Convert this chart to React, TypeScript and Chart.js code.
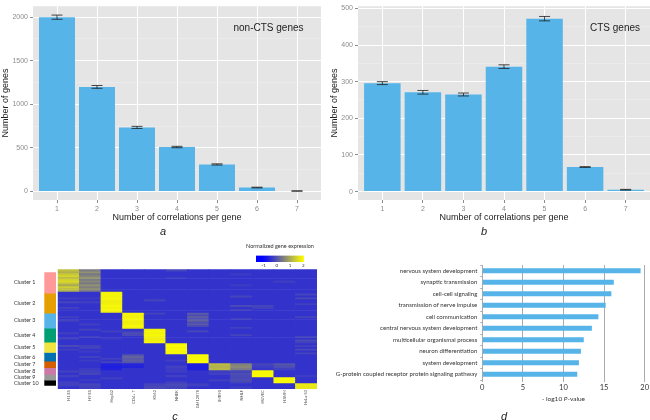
import React, { useEffect, useRef } from "react";
import { Chart, registerables } from "chart.js";

Chart.register(...registerables);

const SANS = "'Liberation Sans', Arial, sans-serif";
const LATO = "Lato, 'Noto Sans', sans-serif";
const BLUE = "#56B4E9";

// Panel a
const correlations = [1, 2, 3, 4, 5, 6, 7];
const nonCtsGenes = [2000, 1200, 735, 510, 310, 45, 5];
const nonCtsErrors = [24, 16, 12, 8, 7, 4, 2];
// Panel b
const ctsGenes = [296, 271, 265, 341, 472, 67, 5];
const ctsErrors = [4, 5, 4, 5, 6, 1, 1];
// Panel c: columns are H1, H9, HepG2, CD4, K562, NHEK, GM, IMR90, NHLF, HUVEC, HSMM, HeLa
const cellLines = ["H1 ES", "H9 ES", "HepG2", "CD4+ T", "K562", "NHEK", "GM12878", "IMR90", "NHLF", "HUVEC", "HSMM", "HeLa-S3"];
const clusterNames = ["Cluster 1", "Cluster 2", "Cluster 3", "Cluster 4", "Cluster 5", "Cluster 6", "Cluster 7", "Cluster 8", "Cluster 9", "Cluster 10"];
const clusterColors = ["#FF9999", "#E69F00", "#56B4E9", "#009E73", "#F0E442", "#0072B2", "#D55E00", "#CC79A7", "#999999", "#000000"];
const clusterSizes = [22, 21, 16, 14.5, 11, 9, 7, 7, 6, 6];
const baseLevel = -0.4;
// Each row lists only the cells that differ from baseLevel (column index: value).
const cluster1 = [
  { 0: 1.25, 1: 0.45, 5: -0.2 }, { 0: 1.05, 1: 0.7 }, { 0: 1.35, 1: 0.4, 8: -0.3 }, { 0: 1.5, 1: 0.55 },
  { 0: 1.2, 1: 0.75, 5: -0.3 }, { 0: 1.45, 1: 0.45 }, { 0: 1.55, 1: 0.6, 10: -0.25 }, { 0: 1.3, 1: 0.4 },
  { 0: 1.0, 1: 0.7, 8: -0.3 }, { 0: 1.4, 1: 0.5 }, { 0: 1.25, 1: 0.65 }, { 0: 1.1, 1: 0.45 },
];
const cluster2 = [
  { 2: 1.85 }, { 2: 1.9, 11: -0.2 }, { 2: 1.85, 8: -0.2 }, { 0: -0.25, 1: -0.3, 2: 1.9, 11: -0.15 },
  { 2: 1.85, 4: -0.2 }, { 0: -0.2, 1: -0.25, 2: 1.8 }, { 2: 1.85, 11: -0.25 }, { 2: 1.9, 8: -0.15, 9: -0.2 },
  { 0: -0.25, 2: 1.85, 9: -0.25 }, { 2: 1.9, 8: -0.25 }, { 2: 1.8 },
];
const cluster3 = [
  { 3: 1.9, 4: -0.2, 6: 0.05 }, { 3: 1.85, 6: -0.1 }, { 0: -0.25, 3: 1.85, 6: 0.1, 11: -0.2 }, { 3: 1.9, 6: -0.05, 8: -0.25 },
  { 0: -0.2, 3: 1.85, 6: 0.15 }, { 3: 1.8, 6: -0.1 }, { 1: -0.25, 3: 1.85, 6: 0.05 }, { 3: 1.9, 6: -0.15 }, { 3: 1.85, 8: -0.25 },
];
const cluster4 = [
  { 1: -0.2, 4: 1.85 }, { 2: -0.25, 3: -0.3, 4: 1.9, 6: -0.15 }, { 0: -0.25, 3: -0.1, 4: 1.85 }, { 3: -0.15, 4: 1.9, 8: -0.2 },
  { 1: -0.25, 4: 1.85, 11: -0.2 }, { 0: -0.2, 2: -0.3, 4: 1.8 }, { 4: 1.85, 11: -0.15 }, { 4: 1.9, 11: -0.25 },
];
const cluster5 = [
  { 5: 1.9 }, { 0: -0.15, 1: -0.25, 5: 1.95, 11: -0.25 }, { 1: -0.2, 5: 1.9 },
  { 0: -0.25, 5: 1.95, 11: -0.15 }, { 1: -0.3, 5: 1.9 }, { 5: 1.9, 11: -0.2 },
];
const cluster6 = [
  { 3: 0.0, 6: 1.95 }, { 1: -0.25, 3: 0.15, 6: 1.9 }, { 2: -0.25, 3: 0.05, 6: 1.95 }, { 1: -0.3, 3: 0.1, 5: -0.25, 6: 1.9 }, { 2: -0.2, 3: 0.0, 6: 1.95 },
];
const cluster7 = [
  { 2: -0.6, 3: -0.55, 6: -0.65, 7: 1.2, 8: 0.5, 9: -0.2, 10: 0.0 },
  { 2: -0.65, 3: -0.6, 5: -0.25, 6: -0.65, 7: 1.1, 8: 0.6, 9: -0.3, 10: -0.1 },
  { 1: -0.3, 2: -0.6, 5: -0.3, 6: -0.65, 7: 1.15, 8: 0.45, 9: -0.35, 10: -0.25 },
];
const cluster8 = [
  { 0: -0.25, 1: -0.25, 5: -0.3, 7: -0.3, 8: -0.2, 9: 1.95 },
  { 1: -0.2, 7: -0.25, 8: -0.1, 9: 1.9 },
  { 0: -0.25, 5: -0.25, 8: -0.15, 9: 1.95, 11: -0.3 },
];
const cluster9 = [
  { 2: -0.25, 8: -0.15, 10: 1.95 }, { 1: -0.3, 7: -0.25, 8: -0.1, 10: 1.9 }, { 0: -0.25, 5: -0.25, 8: -0.2, 10: 1.95 },
];
const cluster10 = [
  { 0: -0.25, 1: -0.2, 4: -0.2, 5: -0.15, 6: -0.25, 11: 1.75 },
  { 1: -0.25, 4: -0.15, 5: -0.2, 8: -0.3, 11: 1.7 },
];
const clusterRows: Record<number, number>[][] = [cluster1, cluster2, cluster3, cluster4, cluster5, cluster6, cluster7, cluster8, cluster9, cluster10];
const legendTicks = [-1, 0, 1, 2];
// Panel d
const goTerms = [
  "nervous system development",
  "synaptic transmission",
  "cell-cell signaling",
  "transmission of nerve impulse",
  "cell communication",
  "central nervous system development",
  "multicellular organismal process",
  "neuron differentiation",
  "system development",
  "G-protein coupled receptor protein signaling pathway",
];
const goValues = [19.5, 16.2, 15.9, 15.2, 14.3, 13.5, 12.5, 12.15, 11.9, 11.7];

function heat(v: number): string {
  const t = Math.max(0, Math.min(1, (v + 1) / 3));
  const c =
    t < 0.5
      ? [t * 2 * 128, t * 2 * 128, 255 - t * 2 * 127]
      : [128 + (t - 0.5) * 2 * 127, 128 + (t - 0.5) * 2 * 127, 128 - (t - 0.5) * 2 * 128];
  return `rgb(${c.map(Math.round).join(",")})`;
}

const panelBg = {
  id: "panelBg",
  beforeDraw(chart: any) {
    const { ctx, chartArea: a } = chart;
    ctx.save();
    ctx.fillStyle = "#E5E5E5";
    ctx.fillRect(a.left, a.top, a.right - a.left, a.bottom - a.top);
    ctx.restore();
  },
};

const errorBars = {
  id: "errorBars",
  afterDatasetsDraw(chart: any, _a: any, o: any) {
    const { ctx, scales } = chart;
    ctx.save();
    ctx.strokeStyle = "#1c1c1c";
    ctx.lineWidth = 0.8;
    chart.data.datasets[0].data.forEach((d: any, i: number) => {
      const x = scales.x.getPixelForValue(d.x);
      const hi = scales.y.getPixelForValue(d.y + o.errors[i]);
      const lo = scales.y.getPixelForValue(d.y - o.errors[i]);
      ctx.beginPath();
      ctx.moveTo(x, hi);
      ctx.lineTo(x, lo);
      ctx.moveTo(x - 5.5, hi);
      ctx.lineTo(x + 5.5, hi);
      ctx.moveTo(x - 5.5, lo);
      ctx.lineTo(x + 5.5, lo);
      ctx.stroke();
    });
    ctx.restore();
    ctx.save();
    ctx.fillStyle = "#222";
    ctx.font = `10px ${SANS}`;
    ctx.textAlign = "center";
    ctx.textBaseline = "middle";
    ctx.fillText(o.label, o.labelX, 28);
    ctx.restore();
  },
};

const mixedAxisTitle = {
  id: "mixedAxisTitle",
  afterDraw(chart: any) {
    const { ctx, chartArea: a } = chart;
    const parts: [string, string][] = [
      ["- log10 ", `6.5px ${LATO}`],
      ["P", `italic 6.5px ${LATO}`],
      ["-value", `6.5px ${LATO}`],
    ];
    ctx.save();
    ctx.fillStyle = "#333";
    ctx.textBaseline = "middle";
    ctx.textAlign = "left";
    let w = 0;
    parts.forEach(([t, f]) => {
      ctx.font = f;
      w += ctx.measureText(t).width;
    });
    let x = (a.left + a.right) / 2 - w / 2;
    parts.forEach(([t, f]) => {
      ctx.font = f;
      ctx.fillText(t, x, a.bottom + 18.5);
      x += ctx.measureText(t).width;
    });
    ctx.restore();
  },
};

function barPanel(canvas: HTMLCanvasElement, values: number[], errors: number[], opts: any) {
  return new Chart(canvas, {
    type: "bar",
    data: {
      datasets: [
        {
          data: correlations.map((x, i) => ({ x, y: values[i] })),
          backgroundColor: BLUE,
          barPercentage: 0.9,
          categoryPercentage: 1,
        },
      ],
    },
    plugins: [panelBg, errorBars],
    options: {
      responsive: false,
      animation: false,
      layout: { padding: { top: opts.top, right: opts.right, left: 0, bottom: 0 } },
      plugins: {
        legend: { display: false },
        tooltip: { enabled: false },
        errorBars: { errors, label: opts.label, labelX: opts.labelX },
      } as any,
      scales: {
        x: {
          type: "linear",
          offset: false,
          min: 0.4,
          max: 7.6,
          afterBuildTicks: (s: any) => {
            s.ticks = correlations.map((value) => ({ value }));
          },
          afterFit: (s: any) => {
            s.height = 23;
          },
          ticks: { color: "#8c8c8c", font: { family: SANS, size: 7 }, padding: 2, maxRotation: 0, autoSkip: false, callback: (v: any) => String(v) },
          grid: { offset: false, color: "#fff", lineWidth: 1, tickColor: "#8c8c8c", tickLength: 3 },
          border: { display: false },
          title: { display: true, text: "Number of correlations per gene", color: "#222", font: { family: SANS, size: 9 }, padding: 0 },
        },
        y: {
          type: "linear",
          min: opts.min,
          max: opts.max,
          afterBuildTicks: (s: any) => {
            s.ticks = opts.ticks.map((value: number) => ({ value }));
          },
          afterFit: (s: any) => {
            s.width = opts.axisWidth;
          },
          ticks: {
            color: "#8c8c8c",
            font: { family: SANS, size: 7 },
            padding: 2,
            autoSkip: false,
            callback: (v: any) => (opts.major.includes(v) ? String(v) : ""),
          },
          grid: {
            color: (c: any) => (opts.major.includes(c.tick?.value) ? "#fff" : "#EFEFEF"),
            lineWidth: (c: any) => (opts.major.includes(c.tick?.value) ? 1 : 0.6),
            tickColor: (c: any) => (opts.major.includes(c.tick?.value) ? "#8c8c8c" : "rgba(0,0,0,0)"),
            tickLength: 3,
          },
          border: { display: false },
          title: { display: true, text: "Number of genes", color: "#222", font: { family: SANS, size: 9 }, padding: 0 },
        },
      },
    },
  });
}

function clusterBounds() {
  let y = 0;
  return clusterSizes.map((s) => {
    const b = [y, y + s];
    y += s;
    return b;
  });
}

function stripChart(canvas: HTMLCanvasElement) {
  const bounds = clusterBounds();
  const total = bounds[bounds.length - 1][1];
  return new Chart(canvas, {
    type: "bar",
    data: {
      labels: [""],
      datasets: bounds.map((b, i) => ({
        data: [b as any],
        backgroundColor: clusterColors[i],
        grouped: false,
        barPercentage: 1,
        categoryPercentage: 1,
      })),
    },
    options: {
      responsive: false,
      animation: false,
      layout: { padding: 0 },
      plugins: { legend: { display: false }, tooltip: { enabled: false } },
      scales: {
        x: { display: false },
        y: {
          reverse: true,
          min: 0,
          max: total,
          afterBuildTicks: (s: any) => {
            s.ticks = bounds.map((b) => ({ value: (b[0] + b[1]) / 2 }));
          },
          afterFit: (s: any) => {
            s.width = 30.3;
          },
          ticks: {
            color: "#333",
            font: { family: LATO, size: 5.4 },
            autoSkip: false,
            crossAlign: "far",
            padding: 0,
            callback: (_v: any, i: number) => clusterNames[i],
          },
          grid: { display: false },
          border: { display: false },
        },
      },
    },
  });
}

function heatChart(canvas: HTMLCanvasElement) {
  const bounds = clusterBounds();
  const total = bounds[bounds.length - 1][1];
  const datasets: any[] = [];
  clusterRows.forEach((rows, k) => {
    const h = clusterSizes[k] / rows.length;
    rows.forEach((row, r) => {
      const y0 = bounds[k][0] + r * h;
      datasets.push({
        data: cellLines.map(() => [y0, y0 + h]),
        backgroundColor: cellLines.map((_, c) => heat(row[c] ?? baseLevel)),
        grouped: false,
        barPercentage: 1,
        categoryPercentage: 1,
      });
    });
  });
  return new Chart(canvas, {
    type: "bar",
    data: { labels: cellLines, datasets },
    options: {
      responsive: false,
      animation: false,
      layout: { padding: { left: 0.7, right: 0, top: 0.3, bottom: 0 } },
      plugins: { legend: { display: false }, tooltip: { enabled: false } },
      scales: {
        x: {
          afterFit: (s: any) => {
            s.height = 22;
          },
          ticks: { color: "#555", font: { family: LATO, size: 4 }, maxRotation: 90, minRotation: 90, padding: 1, autoSkip: false },
          grid: { display: false, drawTicks: false },
          border: { display: false },
        },
        y: { display: false, reverse: true, min: 0, max: total },
      },
    },
  });
}

function legendChart(canvas: HTMLCanvasElement) {
  const lo = -1.58;
  const hi = 2.05;
  const sideAxis = (position: string) => ({
    position,
    display: true,
    afterFit: (s: any) => {
      s.width = 26;
    },
    ticks: { display: false },
    grid: { display: false, drawTicks: false },
    border: { display: false },
  });
  return new Chart(canvas, {
    type: "bar",
    data: {
      labels: [""],
      datasets: [
        {
          data: [[lo, hi] as any],
          barPercentage: 1,
          categoryPercentage: 1,
          backgroundColor: (c: any) => {
            const a = c.chart.chartArea;
            if (!a) return "#888";
            const g = c.chart.ctx.createLinearGradient(a.left, 0, a.right, 0);
            const n = 8;
            for (let i = 0; i <= n; i++) {
              g.addColorStop(i / n, heat(lo + ((hi - lo) * i) / n));
            }
            return g;
          },
        },
      ],
    },
    options: {
      responsive: false,
      animation: false,
      indexAxis: "y",
      layout: { padding: 0 },
      plugins: {
        legend: { display: false },
        tooltip: { enabled: false },
        title: {
          display: true,
          text: "Normalized gene expression",
          color: "#333",
          font: { family: LATO, size: 5.5, weight: "normal" },
          padding: { top: 3, bottom: 6 },
        },
      },
      scales: {
        x: {
          min: lo,
          max: hi,
          afterBuildTicks: (s: any) => {
            s.ticks = legendTicks.map((value) => ({ value }));
          },
          afterFit: (s: any) => {
            s.height = 9;
          },
          ticks: { color: "#333", font: { family: LATO, size: 4.5 }, padding: 1, maxRotation: 0, autoSkip: false, callback: (v: any) => String(v) },
          grid: { display: false, drawTicks: false },
          border: { display: false },
        },
        y: sideAxis("left"),
        yRight: { type: "category", ...sideAxis("right") },
      } as any,
    },
  });
}

function goChart(canvas: HTMLCanvasElement) {
  return new Chart(canvas, {
    type: "bar",
    data: {
      labels: goTerms,
      datasets: [{ data: goValues, backgroundColor: BLUE, barPercentage: 0.42, categoryPercentage: 1 }],
    },
    plugins: [mixedAxisTitle],
    options: {
      responsive: false,
      animation: false,
      indexAxis: "y",
      layout: { padding: { left: 0, right: 5, top: 7, bottom: 0 } },
      plugins: { legend: { display: false }, tooltip: { enabled: false } },
      scales: {
        x: {
          min: 0,
          max: 20,
          afterFit: (s: any) => {
            s.height = 23;
          },
          ticks: { stepSize: 5, color: "#333", font: { family: LATO, size: 7.5 }, padding: 1, maxRotation: 0 },
          grid: { color: "#ABABAB", lineWidth: 1, tickLength: 2, tickColor: "#ABABAB" },
          border: { display: false },
        },
        y: {
          afterFit: (s: any) => {
            s.width = 152.3;
          },
          ticks: { color: "#333", font: { family: LATO, size: 6.05 }, padding: 3, autoSkip: false },
          grid: { drawOnChartArea: false, tickLength: 2, tickColor: "#ABABAB" },
          border: { color: "#ABABAB" },
        },
      },
    },
  });
}

const captionStyle = (left: number, top: number): React.CSSProperties => ({
  position: "absolute",
  left,
  top,
  font: `italic 11px ${SANS}`,
  color: "#222",
  lineHeight: "12px",
  transform: "translate(-50%, -50%)",
});

const place = (left: number, top: number): React.CSSProperties => ({ position: "absolute", left, top, display: "block" });

export default function App() {
  const a = useRef<HTMLCanvasElement>(null);
  const b = useRef<HTMLCanvasElement>(null);
  const strip = useRef<HTMLCanvasElement>(null);
  const hm = useRef<HTMLCanvasElement>(null);
  const lg = useRef<HTMLCanvasElement>(null);
  const d = useRef<HTMLCanvasElement>(null);

  useEffect(() => {
    document.body.style.margin = "0";
    const charts = [
      barPanel(a.current!, nonCtsGenes, nonCtsErrors, {
        top: 1, right: 9, min: -98, max: 2126, axisWidth: 33,
        ticks: [0, 250, 500, 750, 1000, 1250, 1500, 1750, 2000],
        major: [0, 500, 1000, 1500, 2000],
        label: "non-CTS genes", labelX: 268.5,
      }),
      barPanel(b.current!, ctsGenes, ctsErrors, {
        top: 0, right: 0, min: -23, max: 506, axisWidth: 29,
        ticks: [0, 50, 100, 150, 200, 250, 300, 350, 400, 450, 500],
        major: [0, 100, 200, 300, 400, 500],
        label: "CTS genes", labelX: 286,
      }),
      stripChart(strip.current!),
      heatChart(hm.current!),
      legendChart(lg.current!),
      goChart(d.current!),
    ];
    return () => charts.forEach((c) => c.destroy());
  }, []);

  return (
    <div style={{ position: "absolute", left: 0, top: 0, width: 650, height: 420, background: "#fff", overflow: "hidden", filter: "blur(0.35px)" }}>
      <canvas ref={a} width={330} height={223} style={place(0, 0)} />
      <canvas ref={b} width={321} height={223} style={place(329, 0)} />
      <canvas ref={strip} width={42} height={120} style={place(14, 269)} />
      <canvas ref={hm} width={260} height={142} style={place(57, 269)} />
      <canvas ref={lg} width={100} height={31} style={place(230, 240)} />
      <canvas ref={d} width={320} height={145} style={place(330, 258)} />
      <div style={captionStyle(163, 231)}>a</div>
      <div style={captionStyle(484, 231)}>b</div>
      <div style={captionStyle(175, 416)}>c</div>
      <div style={captionStyle(504, 416)}>d</div>
    </div>
  );
}
